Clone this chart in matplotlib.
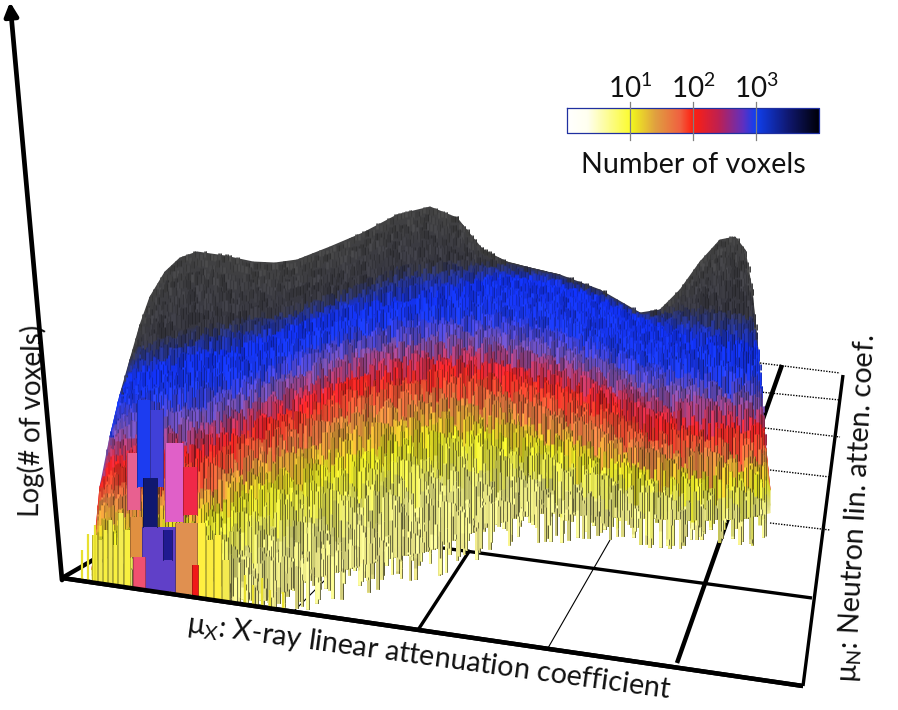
import numpy as np
import matplotlib
matplotlib.use("Agg")
import matplotlib.pyplot as plt
from matplotlib.collections import LineCollection
from matplotlib.colors import LinearSegmentedColormap, to_rgb

plt.rcParams["font.family"] = ["Lato", "DejaVu Sans"]
plt.rcParams["mathtext.fontset"] = "custom"
plt.rcParams["mathtext.rm"] = "Lato"
plt.rcParams["mathtext.it"] = "Lato:italic"

# ======================================
# DATA
# ======================================

top_x = [92, 100, 110, 120, 130, 140, 150, 165, 180, 197, 225, 253, 275, 297, 330, 363, 397,
         430, 457, 473, 483, 507, 530, 560, 600, 640, 660, 680, 700, 720, 735, 745, 752, 757,
         762, 766, 770]
top_y = [570, 487, 437, 395, 360, 325, 297, 272, 258, 252, 256, 262, 263, 260, 247, 233, 215,
         207, 218, 238, 250, 262, 268, 275, 290, 313, 310, 290, 262, 240, 237, 250, 290, 340,
         400, 450, 490]

band_x = [90, 130, 165, 200, 250, 300, 350, 400, 450, 500, 550, 600, 650, 700, 750, 775]
gray_end = [350, 345, 335, 325, 315, 303, 285, 265, 260, 262, 270, 285, 305, 305, 310, 330]
blue_start = [385, 375, 365, 355, 345, 325, 310, 300, 290, 275, 280, 298, 322, 340, 345, 350]
blue_end = [405, 395, 388, 380, 370, 345, 325, 315, 310, 310, 320, 340, 360, 365, 370, 375]
purple = [430, 425, 420, 415, 395, 370, 350, 340, 335, 340, 350, 365, 385, 390, 395, 400]
red = [465, 460, 455, 450, 425, 405, 380, 370, 365, 370, 380, 395, 420, 425, 425, 430]
orange = [500, 495, 490, 485, 455, 435, 410, 400, 395, 400, 415, 430, 450, 450, 450, 455]
yellow = [535, 530, 525, 515, 490, 475, 460, 440, 430, 435, 445, 460, 475, 478, 475, 478]
pale = [575, 580, 590, 590, 545, 530, 515, 495, 480, 480, 480, 490, 500, 505, 505, 505]

bottom_x = [90, 130, 200, 265, 313, 380, 430, 463, 513, 547, 580, 640, 700, 745, 774]
bottom_y = [582, 588, 598, 600, 578, 560, 550, 535, 518, 512, 515, 518, 520, 518, 512]

band_colors = ["#424242", "#363640", "#1030f0", "#1a38ee", "#7450b0", "#f02020", "#d87a40",
               "#d8d820", "#d8d878", "#f6f090"]

ripple = [3, -5, 7, -2, 9, -7, 1, 5, -9, 4, -3, 8, -6, 2, 6, -8, 0, 7, -4, 3,
          -1, 9, -6, 5, -3, -8, 2, 8, -5, 1, 6, -9, 4, -2, 7, -7, 3, 0, 9, -4,
          -6, 5, 1, -3, 8, -8, 2, 6, -1, -5, 9, -2, 4, -7, 7, 0, -4, 3, -9, 6,
          1, -6, 8, -3, 5, -1, -8, 2, 7, -5, 4, 9, -7, 0, 3, -2, 6, -9, 8, -4,
          1, 5, -6, 7, -1, -3, 9, 2, -8, 4, 6, -5, 0, 8, -7, 3, -2, 5, -4, 9,
          -9, 1, 7, -6, 2, 4, -3, 6, -8, 0, 8, -1, -5, 3, 9, -7, 5, -2, 1, -4,
          7, -9, 4, 2, -6, 6, -3, 8, 0, -8, 5, -1, 9, -5, 3, -7, 1, 7, -2, -4,
          6, 2, -9, 8, -6, 4, 0, -3, 5, -8, 9]

strip_x0 = [92, 98, 103, 108, 113, 118, 124, 197, 206, 214, 222, 130, 175, 142, 133, 127, 137,
            150, 143, 163, 165, 183, 192]
strip_x1 = [97, 102, 107, 112, 117, 123, 130, 205, 213, 221, 229, 142, 197, 175, 145, 140, 150,
            163, 157, 172, 183, 197, 198]
strip_top = [535, 540, 530, 520, 545, 513, 530, 523, 540, 535, 560, 517, 523, 527, 557, 453, 400,
             410, 478, 530, 443, 467, 565]
strip_bottom = [583, 584, 585, 586, 587, 588, 589, 600, 602, 603, 604, 557, 594, 592, 589, 510,
                487, 487, 527, 560, 522, 515, 596]
strip_color = ["#f8f040", "#f4ec50", "#f8f040", "#f0e850", "#f8f040", "#f4ec50", "#f8f040",
               "#fff040", "#fcec40", "#fff040", "#f4ea50", "#e09040", "#e09050", "#6040c8",
               "#f05070", "#e86090", "#1c3cf0", "#4040d8", "#101870", "#201a90", "#e060c8",
               "#f02848", "#f01818"]

spike_x = [82, 88, 95, 245, 253, 262, 270, 283]
spike_top = [550, 534, 525, 575, 585, 578, 590, 592]

floor_x0 = [62, 62, 293, 418, 548, 677, 803, 443]
floor_y0 = [578, 578, 612, 630, 648, 663, 686, 548]
floor_x1 = [803, 507, 330, 470, 610, 782, 843, 812]
floor_y1 = [686, 320, 575, 550, 540, 365, 375, 598]
floor_width = [4, 4, 1, 3, 1, 4, 3, 3]

dotted_x0 = [760, 760, 765, 770, 770]
dotted_y0 = [363, 392, 428, 470, 523]
dotted_x1 = [840, 840, 840, 830, 830]
dotted_y1 = [373, 400, 437, 477, 530]

cbar_pos = [0, 0.08, 0.25, 0.26, 0.35, 0.45, 0.5, 0.6, 0.7, 0.75, 0.88, 1]
cbar_colors = ["#ffffff", "#fffff0", "#fbfb30", "#f0f020", "#e0a040", "#f06040", "#ff2010",
               "#c02050", "#6030c0", "#1040f0", "#101870", "#000008"]
cbar_ticks = [630, 693, 756]
cbar_labels = ["10$^{1}$", "10$^{2}$", "10$^{3}$"]

# ======================================
# FIGURE
# ======================================

fig = plt.figure(figsize=(8.98, 7.10), dpi=100)
ax = fig.add_axes([0, 0, 1, 1])
ax.set_xlim(0, 898)
ax.set_ylim(710, 0)
ax.axis("off")

# ======================================
# FLOOR
# ======================================

for x0, y0, x1, y1, w in zip(floor_x0, floor_y0, floor_x1, floor_y1, floor_width):
    ax.plot([x0, x1], [y0, y1], color="black", lw=w * 0.8, solid_capstyle="butt", zorder=1)

for x0, y0, x1, y1 in zip(dotted_x0, dotted_y0, dotted_x1, dotted_y1):
    ax.plot([x0, x1], [y0, y1], color="black", lw=1, ls=(0, (1, 1)), zorder=1)

# y axis with arrow
ax.annotate("", xy=(10, 2), xytext=(62, 580), zorder=6,
            arrowprops=dict(arrowstyle="-|>", color="black", lw=3.4, mutation_scale=20,
                            shrinkA=0, shrinkB=0))

# ======================================
# SURFACE
# ======================================

mesh_x = np.array(sorted(set(top_x) | set(band_x) | set(bottom_x)), dtype=float)
mesh_x = mesh_x[(mesh_x >= 92) & (mesh_x <= 770)]
top_line = np.interp(mesh_x, top_x, top_y)
bottom_line = np.interp(mesh_x, bottom_x, bottom_y)

band_lines = [gray_end, blue_start, blue_end, purple, red, orange, yellow, pale]
rows = [top_line]
for band in band_lines:
    line = np.interp(mesh_x, band_x, band)
    rows.append(np.minimum(np.maximum(line, rows[-1]), bottom_line))
rows.append(bottom_line)
mesh_y = np.array(rows)

levels = np.linspace(0, 1, len(band_colors))
surface_cmap = LinearSegmentedColormap.from_list("surface", list(zip(levels, band_colors)))

X = np.tile(mesh_x, (len(rows), 1))
C = np.tile(levels[:, None], (1, len(mesh_x)))
ax.pcolormesh(X, mesh_y, C, shading="gouraud", cmap=surface_cmap, vmin=0, vmax=1, zorder=2)

# bars on top of the surface, back rows first
segments = []
colors = []
widths = []
row_fractions = np.linspace(0, 1, 44)
columns = np.arange(93, 766, 3.6)
front_edge = lambda x: 578 + (686 - 578) / (803 - 62) * (x - 62)

for r, t in enumerate(row_fractions):
    for c, x in enumerate(columns):
        col_x = x + 1.8 * (r % 2)
        y_top = np.interp(col_x, mesh_x, top_line)
        y_bot = np.interp(col_x, mesh_x, bottom_line)
        j = ripple[(c * 7 + r * 13) % len(ripple)]
        y = y_top + t * (y_bot - y_top) + j * (0.25 + 2.2 * t)
        y = max(y, y_top - 2)
        length = 6 + 34 * t
        end = y + length
        if t > 0.75:
            end = y_bot + 3.2 * max(0, ripple[(c * 11 + (r % 2) * 5) % len(ripple)])
        end = min(end, front_edge(col_x))
        if y >= end:
            continue
        ys = np.array([np.interp(col_x, mesh_x, line) for line in rows])
        # where bands collapse onto the silhouette keep the lowest one
        keep = np.append(np.diff(ys) > 0, True)
        level = np.interp(y + 2, ys[keep], levels[keep])
        shade = 1 + 0.02 * ripple[(c * 3 + r * 17) % len(ripple)]
        rgb = np.clip(np.array(surface_cmap(level)[:3]) * shade, 0, 1)
        segments.append([(col_x, y), (col_x, end)])
        colors.append(rgb)
        widths.append(1.9)
        segments.append([(col_x + 1.6, y), (col_x + 1.6, end)])
        colors.append(rgb * (0.85 - 0.4 * t))
        widths.append(0.7)

ax.add_collection(LineCollection(segments, colors=colors, linewidths=widths, zorder=3,
                                 capstyle="butt"))

# low-mu_x streak of tall single-colour bars
for x0, x1, y0, y1, col in zip(strip_x0, strip_x1, strip_top, strip_bottom, strip_color):
    ax.fill([x0, x1, x1, x0], [y0, y0, min(y1, front_edge(x1)), min(y1, front_edge(x0))],
            color=col, lw=0, zorder=4)
    for xe in (x0, x1):
        ax.plot([xe, xe], [y0, min(y1, front_edge(xe))],
                color=np.array(to_rgb(col)) * 0.7, lw=0.6, zorder=4)

for x, y in zip(spike_x, spike_top):
    ax.plot([x, x], [y, front_edge(x)], color="#e8e030", lw=1.6, zorder=4,
            solid_capstyle="butt")

# front edge over the bars
ax.plot([floor_x0[0], floor_x1[0]], [floor_y0[0], floor_y1[0]], color="black", lw=3.2,
        solid_capstyle="butt", zorder=5)

# ======================================
# COLORBAR
# ======================================

cbar_cmap = LinearSegmentedColormap.from_list("voxels", list(zip(cbar_pos, cbar_colors)))
ax.imshow(np.linspace(0, 1, 256)[None, :], extent=(567, 819, 133, 108), cmap=cbar_cmap,
          aspect="auto", zorder=3)
ax.plot([567, 819, 819, 567, 567], [108, 108, 133, 133, 108], color="#2030a0", lw=0.9, zorder=4)
ax.set_xlim(0, 898)
ax.set_ylim(710, 0)

for x, label in zip(cbar_ticks, cbar_labels):
    ax.plot([x, x], [102, 140], color="#808080", lw=0.9, zorder=5)
    ax.text(x, 98, label, ha="center", va="baseline", fontsize=20, color="#111111")

ax.text(693, 165, "Number of voxels", ha="center", va="center", fontsize=20.7, color="#111111")

# ======================================
# AXIS LABELS
# ======================================

ax.text(32, 421, "Log(# of voxels)", rotation=89, ha="center", va="center", fontsize=20,
        color="#111111")
ax.text(429, 657, "μ$_{\\mathrm{X}}$: X-ray linear attenuation coefficient", rotation=-7.8,
        rotation_mode="anchor", ha="center", va="center", fontsize=20.7, color="#111111")
ax.text(857, 508, "μ$_{\\mathrm{N}}$: Neutron lin. atten. coef.", rotation=87,
        rotation_mode="anchor", ha="center", va="center", fontsize=20.7, color="#111111")

fig.savefig("out.png", dpi=100)
